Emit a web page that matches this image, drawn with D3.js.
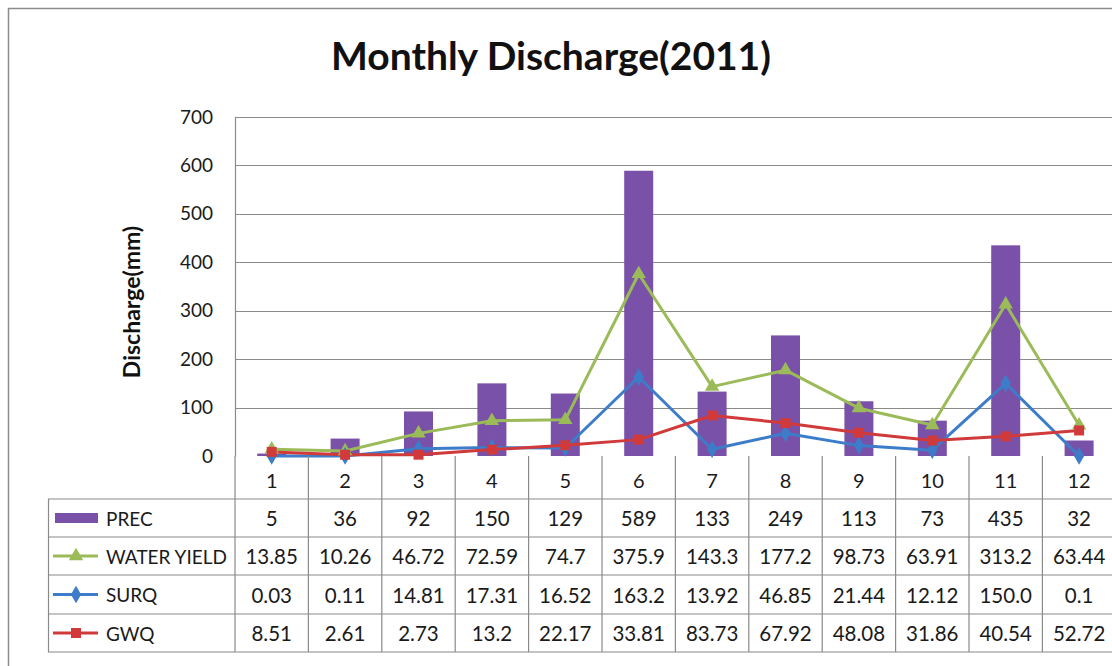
<!DOCTYPE html>
<html>
<head>
<meta charset="utf-8">
<title>Monthly Discharge(2011)</title>
<style>
body { margin: 0; background: #fff; }
svg { display: block; font-family: Lato, "Noto Sans", sans-serif; }
</style>
</head>
<body>
<svg id="chart"></svg>
<script src="https://cdnjs.cloudflare.com/ajax/libs/d3/7.8.5/d3.min.js"></script>
<script>
// chart data
var months = ['1', '2', '3', '4', '5', '6', '7', '8', '9', '10', '11', '12'];
var prec = [5, 36, 92, 150, 129, 589, 133, 249, 113, 73, 435, 32];
var waterYield = [13.85, 10.26, 46.72, 72.59, 74.7, 375.9, 143.3, 177.2, 98.73, 63.91, 313.2, 63.44];
var surq = [0.03, 0.11, 14.81, 17.31, 16.52, 163.2, 13.92, 46.85, 21.44, 12.12, 150.0, 0.1];
var gwq = [8.51, 2.61, 2.73, 13.2, 22.17, 33.81, 83.73, 67.92, 48.08, 31.86, 40.54, 52.72];
var yTicks = [0, 100, 200, 300, 400, 500, 600, 700];
var seriesNames = ['PREC', 'WATER YIELD', 'SURQ', 'GWQ'];
// labels as shown in the table (keeps "150.0")
var tableText = [
  ['5', '36', '92', '150', '129', '589', '133', '249', '113', '73', '435', '32'],
  ['13.85', '10.26', '46.72', '72.59', '74.7', '375.9', '143.3', '177.2', '98.73', '63.91', '313.2', '63.44'],
  ['0.03', '0.11', '14.81', '17.31', '16.52', '163.2', '13.92', '46.85', '21.44', '12.12', '150.0', '0.1'],
  ['8.51', '2.61', '2.73', '13.2', '22.17', '33.81', '83.73', '67.92', '48.08', '31.86', '40.54', '52.72']
];

var W = 1112, H = 666;
var plotLeft = 235, plotTop = 117, zeroY = 456;
var colW = 73.4;
var purple = '#7a51a8', green = '#9bbb59', blue = '#3d7cc9', red = '#d03a3a';
var gridCol = '#8a8a8a';
var textCol = '#1a1a1a';

var svg = d3.select('#chart').attr('width', W).attr('height', H);

// outer chart frame (right and bottom fall outside the picture)
svg.append('rect')
  .attr('x', 8.5).attr('y', 8.5)
  .attr('width', 1130).attr('height', 680)
  .attr('fill', 'none').attr('stroke', '#8c8c8c').attr('stroke-width', 1.5);

svg.append('text')
  .attr('x', 551).attr('y', 70)
  .attr('text-anchor', 'middle')
  .attr('font-size', 39).attr('font-weight', 'bold')
  .attr('fill', '#111')
  .text('Monthly Discharge(2011)');

var x = d3.scaleBand()
  .domain(months)
  .range([plotLeft, plotLeft + colW * months.length])
  .padding(0);

var y = d3.scaleLinear()
  .domain([0, 700])
  .range([zeroY, plotTop]);

// gridlines
svg.append('g').selectAll('line')
  .data(yTicks.slice(1))
  .enter().append('line')
  .attr('x1', plotLeft).attr('x2', W + 20)
  .attr('y1', function(d) { return Math.round(y(d)) + 0.5; })
  .attr('y2', function(d) { return Math.round(y(d)) + 0.5; })
  .attr('stroke', gridCol).attr('stroke-width', 1.2);

// y axis
var yAxis = svg.append('g')
  .attr('transform', 'translate(' + plotLeft + ',0)')
  .call(d3.axisLeft(y).tickValues(yTicks).tickSize(0).tickPadding(22));
yAxis.select('.domain').attr('stroke', gridCol).attr('stroke-width', 1.2);
yAxis.selectAll('text')
  .attr('font-family', 'Lato, sans-serif')
  .attr('font-size', 19).attr('fill', textCol);

svg.append('text')
  .attr('transform', 'translate(140,' + 302 + ') rotate(-90)')
  .attr('text-anchor', 'middle')
  .attr('font-size', 23).attr('font-weight', 'bold')
  .attr('fill', '#111')
  .text('Discharge(mm)');

// bars
var barW = 29;
svg.append('g').selectAll('rect')
  .data(prec)
  .enter().append('rect')
  .attr('x', function(d, i) { return x(months[i]) + x.bandwidth() / 2 - barW / 2; })
  .attr('y', function(d) { return y(d); })
  .attr('width', barW)
  .attr('height', function(d) { return zeroY - y(d); })
  .attr('fill', purple);

// lines
var line = d3.line()
  .x(function(d, i) { return x(months[i]) + x.bandwidth() / 2; })
  .y(function(d) { return y(d); });

var lineSeries = [
  { values: waterYield, color: green, marker: d3.symbolTriangle, size: 90 },
  { values: surq, color: blue, marker: d3.symbolDiamond, size: 90 },
  { values: gwq, color: red, marker: d3.symbolSquare, size: 100 }
];

lineSeries.forEach(function(s) {
  svg.append('path')
    .datum(s.values)
    .attr('d', line)
    .attr('fill', 'none')
    .attr('stroke', s.color)
    .attr('stroke-width', 3)
    .attr('stroke-linejoin', 'round');
});
lineSeries.forEach(function(s) {
  svg.append('g').selectAll('path')
    .data(s.values)
    .enter().append('path')
    .attr('transform', function(d, i) {
      return 'translate(' + (x(months[i]) + x.bandwidth() / 2) + ',' + y(d) + ')';
    })
    .attr('d', d3.symbol().type(s.marker).size(s.size))
    .attr('fill', s.color);
});

// data table
var tableLeft = 48;
var rowY = [456, 499, 537, 575, 614, 652];
var tbl = svg.append('g');
var tableLine = function(x1, y1, x2, y2) {
  tbl.append('line')
    .attr('x1', x1).attr('y1', y1).attr('x2', x2).attr('y2', y2)
    .attr('stroke', gridCol).attr('stroke-width', 1.2);
};

rowY.slice(1).forEach(function(ry) { tableLine(tableLeft, ry, W + 20, ry); });
tableLine(tableLeft + 0.5, rowY[1], tableLeft + 0.5, rowY[5]);
months.forEach(function(m) {
  tableLine(x(m), zeroY, x(m), rowY[5]);
});
tableLine(x.range()[1], zeroY, x.range()[1], rowY[5]);

tbl.selectAll('text.cat')
  .data(months)
  .enter().append('text')
  .attr('class', 'cat')
  .attr('x', function(d) { return x(d) + x.bandwidth() / 2; })
  .attr('y', (rowY[0] + rowY[1]) / 2 + 2)
  .attr('text-anchor', 'middle')
  .attr('dominant-baseline', 'central')
  .attr('font-size', 20).attr('fill', textCol)
  .text(function(d) { return d; });

tableText.forEach(function(row, r) {
  var cy = (rowY[r + 1] + rowY[r + 2]) / 2;
  tbl.selectAll('text.r' + r)
    .data(row)
    .enter().append('text')
    .attr('class', 'r' + r)
    .attr('x', function(d, i) { return x(months[i]) + x.bandwidth() / 2; })
    .attr('y', cy)
    .attr('text-anchor', 'middle')
    .attr('dominant-baseline', 'central')
    .attr('font-size', 20.5).attr('fill', textCol)
    .text(function(d) { return d; });

  // legend key + name
  var key = tbl.append('g').attr('transform', 'translate(0,' + cy + ')');
  if (r === 0) {
    key.append('rect').attr('x', 55).attr('y', -5).attr('width', 43).attr('height', 10).attr('fill', purple);
  } else {
    var s = lineSeries[r - 1];
    key.append('line').attr('x1', 53).attr('x2', 98).attr('y1', 0).attr('y2', 0)
      .attr('stroke', s.color).attr('stroke-width', 3);
    key.append('path').attr('transform', 'translate(76,0)')
      .attr('d', d3.symbol().type(s.marker).size(s.size)).attr('fill', s.color);
  }
  key.append('text')
    .attr('x', 106).attr('y', 0)
    .attr('dominant-baseline', 'central')
    .attr('font-size', 19).attr('fill', textCol)
    .text(seriesNames[r]);
});
</script>
</body>
</html>
